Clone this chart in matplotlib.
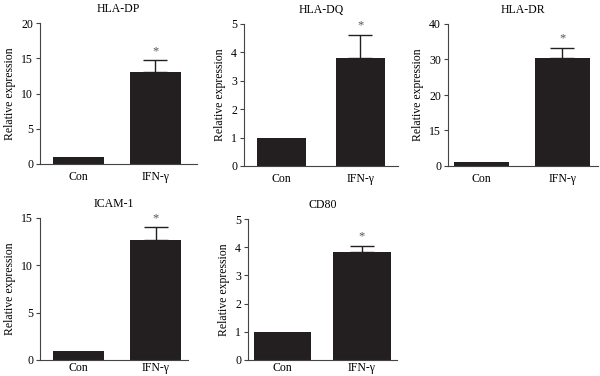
import matplotlib
matplotlib.use("Agg")
import matplotlib.pyplot as plt

plt.rcParams['font.family'] = ['Liberation Serif', 'DejaVu Serif']

categories = ["Con", "IFN-γ"]
titles = ["HLA-DP", "HLA-DQ", "HLA-DR", "ICAM-1", "CD80"]
means = [[1.0, 13.1], [1.0, 3.8], [1.0, 30.4], [1.0, 12.7], [1.0, 3.84]]
errs = [[0.0, 1.6], [0.0, 0.8], [0.0, 2.8], [0.0, 1.3], [0.0, 0.22]]
yticks = [[0, 5, 10, 15, 20], [0, 1, 2, 3, 4, 5], [0, 10, 20, 30, 40], [0, 5, 10, 15], [0, 1, 2, 3, 4, 5]]
yticklabels = [["0", "5", "10", "15", "20"], ["0", "1", "2", "3", "4", "5"],
               ["0", "15", "20", "30", "40"], ["0", "5", "10", "15"], ["0", "1", "2", "3", "4", "5"]]
ymax = [20, 5, 40, 15, 5]

W, H = 600, 376
# pixel boxes: left, right, top(ymax), bottom(0)
boxes = [(40, 197, 23, 164), (244, 398, 24, 166), (448, 598, 24, 166),
         (40, 188, 218, 360), (248, 397, 219, 360)]
xlims = [(-0.5, 1.54), (-0.47, 1.48), (-0.41, 1.44), (-0.5, 1.42), (-0.43, 1.44)]
widths = [0.66, 0.62, 0.68, 0.66, 0.72]

fig = plt.figure(figsize=(6, 3.76), dpi=100)
for i in range(5):
    l, r, t, b = boxes[i]
    ax = fig.add_axes([l / W, 1 - b / H, (r - l) / W, (b - t) / H])
    ax.bar([0, 1], means[i], width=widths[i], color="#231f20", zorder=2)
    ax.errorbar([1], [means[i][1]], yerr=[[0], [errs[i][1]]], fmt="none",
                ecolor="#231f20", elinewidth=1.0, capsize=8.5, capthick=1.0, zorder=1)
    ax.text(1, means[i][1] + errs[i][1] + ymax[i] * 0.025, "*", ha="center", va="bottom",
            fontsize=9, color="#555555")
    ax.set_xlim(*xlims[i])
    ax.set_ylim(0, ymax[i])
    ax.set_yticks(yticks[i])
    ax.set_yticklabels(yticklabels[i])
    ax.set_xticks([0, 1])
    ax.set_xticklabels(categories)
    ax.tick_params(axis="x", length=0, pad=5 if i < 3 else 1.5, labelsize=8.5)
    ax.tick_params(axis="y", length=3, width=0.8, pad=2, labelsize=8.5, color="#444444")
    for s in ["top", "right"]:
        ax.spines[s].set_visible(False)
    for s in ["left", "bottom"]:
        ax.spines[s].set_linewidth(0.8)
        ax.spines[s].set_color("#444444")
    ax.set_title(titles[i], fontsize=8.5, pad=8)
    ax.set_ylabel("Relative expression", fontsize=8.5, labelpad=4)

fig.savefig("out.png", dpi=100)
